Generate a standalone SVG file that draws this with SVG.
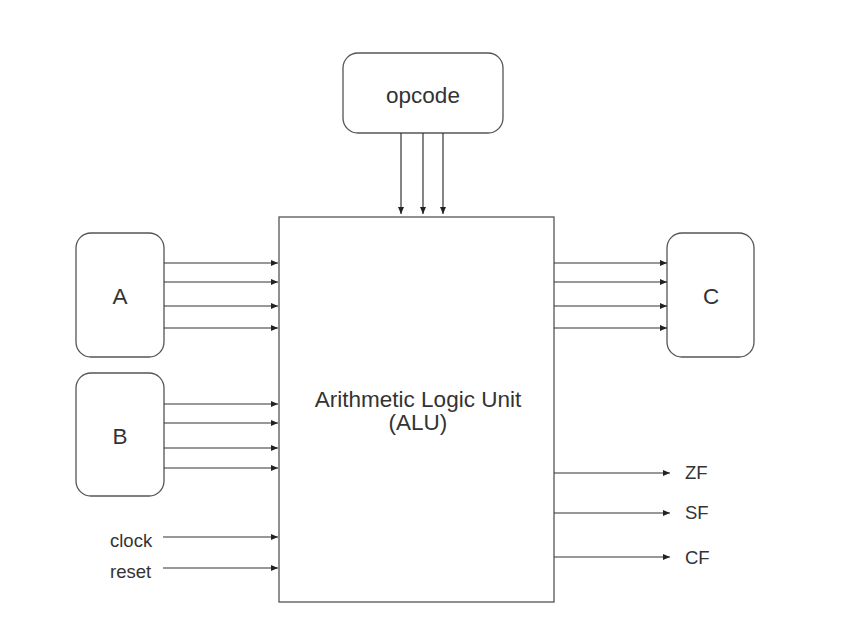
<svg xmlns="http://www.w3.org/2000/svg" width="861" height="637" viewBox="0 0 861 637">
<defs>
<marker id="ah" markerWidth="7" markerHeight="6" refX="7" refY="3" orient="auto" markerUnits="userSpaceOnUse">
<path d="M0,0 L7,3 L0,6 Z" fill="#222"/>
</marker>
<style>
.box{fill:#fff;stroke:#555;stroke-width:1.3}
.c{stroke:#333;stroke-width:1.2;fill:none;marker-end:url(#ah)}
text{font-family:"Liberation Sans",Arial,sans-serif;fill:#333}
.big{font-size:22.5px;text-anchor:middle}
.sm{font-size:18.5px}
</style>
</defs>
<rect width="861" height="637" fill="#fff"/>
<g id="opcode"><rect class="box" x="343" y="53" width="160" height="80" rx="15"/><text class="big" x="423" y="103">opcode</text></g>
<g id="alu"><rect class="box" x="279" y="217" width="275" height="385"/><text class="big" x="418" y="407">Arithmetic Logic Unit</text><text class="big" x="418" y="430">(ALU)</text></g>
<g id="A"><rect class="box" x="76" y="233" width="88" height="124" rx="15"/><text class="big" x="120" y="304">A</text></g>
<g id="B"><rect class="box" x="76" y="373" width="88" height="123" rx="15"/><text class="big" x="120" y="444">B</text></g>
<g id="C"><rect class="box" x="667" y="233" width="87" height="124" rx="15"/><text class="big" x="711" y="304">C</text></g>
<g id="labels">
<text class="sm" x="685" y="479">ZF</text>
<text class="sm" x="685" y="519">SF</text>
<text class="sm" x="685" y="564">CF</text>
<text class="sm" x="110" y="547">clock</text>
<text class="sm" x="110" y="578">reset</text>
</g>
<g id="connectors">
<line class="c" x1="401" y1="133" x2="401" y2="214"/>
<line class="c" x1="423" y1="133" x2="423" y2="214"/>
<line class="c" x1="443" y1="133" x2="443" y2="214"/>
<line class="c" x1="164" y1="263" x2="278" y2="263"/>
<line class="c" x1="164" y1="282" x2="278" y2="282"/>
<line class="c" x1="164" y1="306" x2="278" y2="306"/>
<line class="c" x1="164" y1="328" x2="278" y2="328"/>
<line class="c" x1="164" y1="404" x2="278" y2="404"/>
<line class="c" x1="164" y1="423" x2="278" y2="423"/>
<line class="c" x1="164" y1="448" x2="278" y2="448"/>
<line class="c" x1="164" y1="468" x2="278" y2="468"/>
<line class="c" x1="554" y1="263" x2="667" y2="263"/>
<line class="c" x1="554" y1="282" x2="667" y2="282"/>
<line class="c" x1="554" y1="306" x2="667" y2="306"/>
<line class="c" x1="554" y1="328" x2="667" y2="328"/>
<line class="c" x1="554" y1="473" x2="670" y2="473"/>
<line class="c" x1="554" y1="513" x2="670" y2="513"/>
<line class="c" x1="554" y1="557" x2="670" y2="557"/>
<line class="c" x1="163" y1="537" x2="278" y2="537"/>
<line class="c" x1="163" y1="568" x2="278" y2="568"/>
</g>
</svg>
